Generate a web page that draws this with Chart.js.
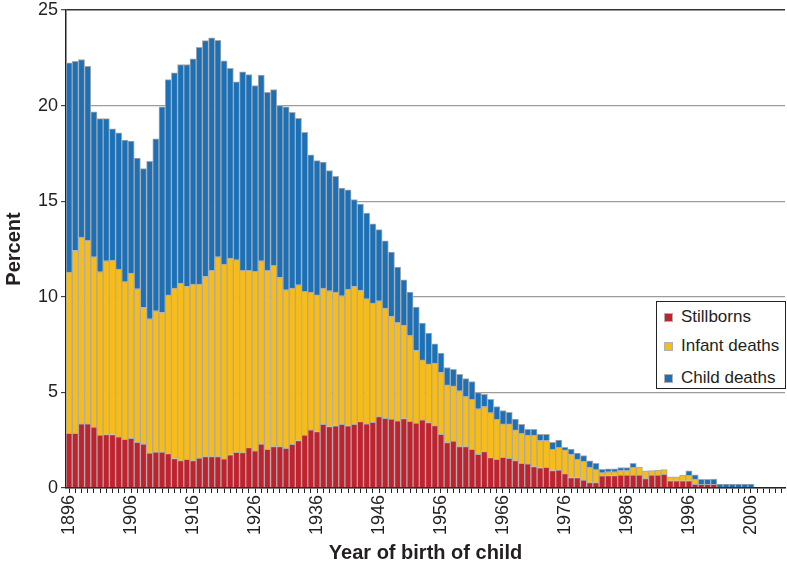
<!DOCTYPE html>
<html>
<head>
<meta charset="utf-8">
<script src="https://cdn.jsdelivr.net/npm/chart.js@4/dist/chart.umd.min.js"></script>
<style>
  html, body { margin: 0; padding: 0; background: #ffffff; }
  #wrap { position: relative; width: 787px; height: 569px; }
  #legend {
    position: absolute; left: 656px; top: 301px; width: 128px; height: 86px;
    border: 1.3px solid #222; background: #fff;
    font-family: "Liberation Sans", Arial, sans-serif; font-size: 17px; color: #231f20;
  }
  .item { position: absolute; left: 0; height: 20px; line-height: 20px; white-space: nowrap; }
  .sw { position: absolute; left: 7px; top: 6px; width: 7px; height: 7px; border: 1px solid #b0b0b0; }
  .lbl { position: absolute; left: 24px; top: 0; }
</style>
</head>
<body>
<div id="wrap">
  <canvas id="c" width="787" height="569"></canvas>
  <div id="legend"></div>
</div>
<script>
// Categories: year of birth of child
const years = [];
for (let y = 1896; y <= 2011; y++) years.push(y);

// Percent values (stacked segments), 1896 .. 2006
const stillborns = [
  2.86, 2.86, 3.35, 3.35, 3.18, 2.77, 2.79, 2.80, 2.67, 2.55,
  2.60, 2.39, 2.30, 1.82, 1.88, 1.88, 1.80, 1.54, 1.43, 1.50,
  1.43, 1.57, 1.64, 1.64, 1.64, 1.52, 1.74, 1.87, 1.85, 2.11,
  1.94, 2.30, 2.02, 2.16, 2.16, 2.08, 2.29, 2.48, 2.77, 3.04,
  2.95, 3.33, 3.21, 3.25, 3.33, 3.25, 3.33, 3.47, 3.35, 3.44,
  3.73, 3.65, 3.60, 3.51, 3.63, 3.49, 3.39, 3.56, 3.42, 3.26,
  2.81, 2.37, 2.46, 2.16, 2.16, 2.02, 1.76, 1.90, 1.59, 1.50,
  1.61, 1.55, 1.43, 1.29, 1.26, 1.12, 1.06, 1.08, 0.91, 0.94,
  0.75, 0.55, 0.55, 0.42, 0.28, 0.28, 0.63, 0.65, 0.65, 0.68,
  0.68, 0.68, 0.68, 0.49, 0.68, 0.68, 0.72, 0.38, 0.38, 0.38,
  0.38, 0.19, 0.19, 0.19, 0.19, null, null, null, null, null,
  null
];
const infantDeaths = [
  8.43, 9.56, 9.77, 9.60, 8.91, 8.54, 9.09, 9.12, 8.78, 8.24,
  8.64, 8.03, 7.14, 7.03, 7.39, 7.30, 8.30, 8.91, 9.29, 9.04,
  9.23, 9.10, 9.42, 9.74, 10.45, 10.19, 10.28, 10.07, 9.53, 9.27,
  9.39, 9.58, 9.36, 9.48, 8.85, 8.29, 8.16, 8.15, 7.51, 7.21,
  7.15, 7.12, 7.10, 7.00, 6.72, 7.15, 7.21, 6.86, 6.55, 6.23,
  6.06, 5.76, 5.37, 5.16, 4.89, 4.48, 3.80, 3.14, 3.07, 3.27,
  3.23, 3.02, 2.88, 2.92, 2.62, 2.62, 2.38, 2.36, 2.35, 2.09,
  1.74, 1.80, 1.61, 1.57, 1.51, 1.65, 1.42, 1.40, 1.11, 1.19,
  1.24, 1.20, 0.95, 0.97, 0.82, 0.68, 0.17, 0.20, 0.20, 0.23,
  0.23, 0.40, 0.42, 0.41, 0.23, 0.26, 0.24, 0.21, 0.21, 0.29,
  0.28, 0.27, null, null, null, null, null, null, null, null,
  null
];
const childDeaths = [
  10.95, 9.90, 9.29, 9.11, 7.58, 8.01, 7.44, 6.86, 7.12, 7.41,
  6.91, 6.84, 7.26, 8.23, 8.99, 10.75, 11.26, 11.26, 11.43, 11.61,
  11.78, 12.38, 12.34, 12.16, 11.33, 10.63, 9.93, 9.30, 10.38, 10.24,
  9.72, 9.71, 9.32, 9.20, 8.99, 9.56, 9.20, 8.71, 8.32, 7.18,
  7.02, 6.60, 6.29, 6.05, 5.64, 5.20, 4.54, 4.52, 4.48, 4.15,
  3.72, 3.52, 3.37, 2.88, 2.37, 2.28, 2.27, 1.92, 1.61, 1.01,
  1.01, 0.91, 0.87, 0.87, 0.94, 0.93, 0.85, 0.64, 0.70, 0.67,
  0.70, 0.61, 0.57, 0.47, 0.30, 0.30, 0.33, 0.33, 0.37, 0.38,
  0.14, 0.28, 0.32, 0.30, 0.32, 0.33, 0.18, 0.15, 0.15, 0.16,
  0.16, 0.21, null, null, null, null, null, null, null, null,
  0.24, 0.23, 0.26, 0.26, 0.27, 0.21, 0.21, 0.21, 0.21, 0.21,
  0.21
];
const yTicks = [0, 5, 10, 15, 20, 25];
const seriesNames = ["Stillborns", "Infant deaths", "Child deaths"];
const seriesColors = ["#c1222e", "#f9bc15", "#1a71b9"];

const FONT = '"Liberation Sans", Arial, sans-serif';
const TEXT = '#231f20';

const ctx = document.getElementById('c').getContext('2d');
new Chart(ctx, {
  type: 'bar',
  data: {
    labels: years,
    datasets: [stillborns, infantDeaths, childDeaths].map((d, i) => ({
      label: seriesNames[i],
      data: d,
      backgroundColor: seriesColors[i],
      borderColor: '#a9a9a9',
      borderWidth: 1,
      barPercentage: 1.0,
      categoryPercentage: 1.0
    }))
  },
  options: {
    responsive: false,
    animation: false,
    devicePixelRatio: 1,
    layout: { padding: { top: 10, right: 2, bottom: 0, left: 0 } },
    plugins: { legend: { display: false }, tooltip: { enabled: false } },
    scales: {
      x: {
        stacked: true,
        offset: true,
        afterFit: (s) => { s.height = 81; s.paddingRight = 0; s.paddingLeft = 0; },
        grid: { display: true, drawOnChartArea: false, offset: false, tickLength: 5, tickColor: '#222', tickWidth: 1 },
        border: { display: true, color: '#222', width: 1.5 },
        ticks: {
          autoSkip: false, minRotation: 90, maxRotation: 90, padding: 2,
          color: TEXT, font: { family: FONT, size: 18 },
          callback: function (v, i) { const yr = years[i]; return (yr - 1896) % 10 === 0 ? String(yr) : ''; }
        },
        title: { display: true, text: 'Year of birth of child', color: TEXT,
                 font: { family: FONT, size: 20, weight: 'bold' }, padding: { top: 0, bottom: 4 } }
      },
      y: {
        stacked: true,
        min: 0, max: 25,
        afterFit: (s) => { s.width = 66; s.paddingTop = 0; s.paddingBottom = 0; },
        afterBuildTicks: (s) => { s.ticks = yTicks.map(v => ({ value: v })); },
        grid: {
          color: (c) => c.tick && c.tick.value === 25 ? '#333' : '#9c9c9c',
          lineWidth: (c) => c.tick && c.tick.value === 25 ? 1.5 : 1.3,
          tickLength: 5, tickColor: '#222', tickWidth: 1
        },
        border: { display: true, color: '#222', width: 1.5 },
        ticks: { padding: 3, color: TEXT, font: { family: FONT, size: 18 } },
        title: { display: true, text: 'Percent', color: TEXT,
                 font: { family: FONT, size: 20, weight: 'bold' }, padding: { top: 2, bottom: 0 } }
      }
    }
  }
});

// HTML legend
const leg = document.getElementById('legend');
const rowTops = [5, 34, 66];
seriesNames.forEach((n, i) => {
  const it = document.createElement('div');
  it.className = 'item';
  it.style.top = rowTops[i] + 'px';
  const sw = document.createElement('span');
  sw.className = 'sw';
  sw.style.background = seriesColors[i];
  const lb = document.createElement('span');
  lb.className = 'lbl';
  lb.textContent = n;
  it.appendChild(sw); it.appendChild(lb);
  leg.appendChild(it);
});
</script>
</body>
</html>
